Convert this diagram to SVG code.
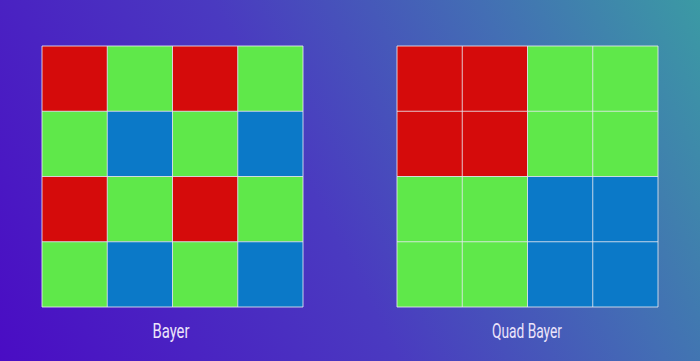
<svg xmlns="http://www.w3.org/2000/svg" width="700" height="361" viewBox="0 0 700 361">
<defs>
<linearGradient id="bg" x1="0" y1="361" x2="700" y2="0" gradientUnits="userSpaceOnUse">
<stop offset="0" stop-color="#4a0cc4"/>
<stop offset="0.45" stop-color="#4a3ac0"/>
<stop offset="0.75" stop-color="#436eb4"/>
<stop offset="1" stop-color="#3b9aa4"/>
</linearGradient>
<style>
.r{fill:#d50b0b}
.g{fill:#5fe84a}
.b{fill:#0b79c8}
.grid{stroke:#e6e8f0;stroke-width:1;fill:none;opacity:0.85}
.lbl{font-family:"Roboto","Liberation Sans",sans-serif;font-size:21px;fill:#ece4fa;text-anchor:middle}
</style>
</defs>
<rect width="700" height="361" fill="url(#bg)"/>
<g id="bayer">
<rect class="r" x="42" y="46" width="65.25" height="65.25"/>
<rect class="g" x="107.25" y="46" width="65.25" height="65.25"/>
<rect class="r" x="172.5" y="46" width="65.25" height="65.25"/>
<rect class="g" x="237.75" y="46" width="65.25" height="65.25"/>
<rect class="g" x="42" y="111.25" width="65.25" height="65.25"/>
<rect class="b" x="107.25" y="111.25" width="65.25" height="65.25"/>
<rect class="g" x="172.5" y="111.25" width="65.25" height="65.25"/>
<rect class="b" x="237.75" y="111.25" width="65.25" height="65.25"/>
<rect class="r" x="42" y="176.5" width="65.25" height="65.25"/>
<rect class="g" x="107.25" y="176.5" width="65.25" height="65.25"/>
<rect class="r" x="172.5" y="176.5" width="65.25" height="65.25"/>
<rect class="g" x="237.75" y="176.5" width="65.25" height="65.25"/>
<rect class="g" x="42" y="241.75" width="65.25" height="65.25"/>
<rect class="b" x="107.25" y="241.75" width="65.25" height="65.25"/>
<rect class="g" x="172.5" y="241.75" width="65.25" height="65.25"/>
<rect class="b" x="237.75" y="241.75" width="65.25" height="65.25"/>
<path class="grid" d="M42 46H303V307H42Z M107.25 46V307 M172.5 46V307 M237.75 46V307 M42 111.25H303 M42 176.5H303 M42 241.75H303"/>
<text class="lbl" x="171" y="338" textLength="37" lengthAdjust="spacingAndGlyphs">Bayer</text>
</g>
<g id="quad-bayer">
<rect class="r" x="397" y="46" width="130.5" height="130.5"/>
<rect class="g" x="527.5" y="46" width="130.5" height="130.5"/>
<rect class="g" x="397" y="176.5" width="130.5" height="130.5"/>
<rect class="b" x="527.5" y="176.5" width="130.5" height="130.5"/>
<path class="grid" d="M397 46H658V307H397Z M462.25 46V307 M527.5 46V307 M592.75 46V307 M397 111.25H658 M397 176.5H658 M397 241.75H658"/>
<text class="lbl" x="527" y="338" textLength="70" lengthAdjust="spacingAndGlyphs">Quad Bayer</text>
</g>
</svg>
